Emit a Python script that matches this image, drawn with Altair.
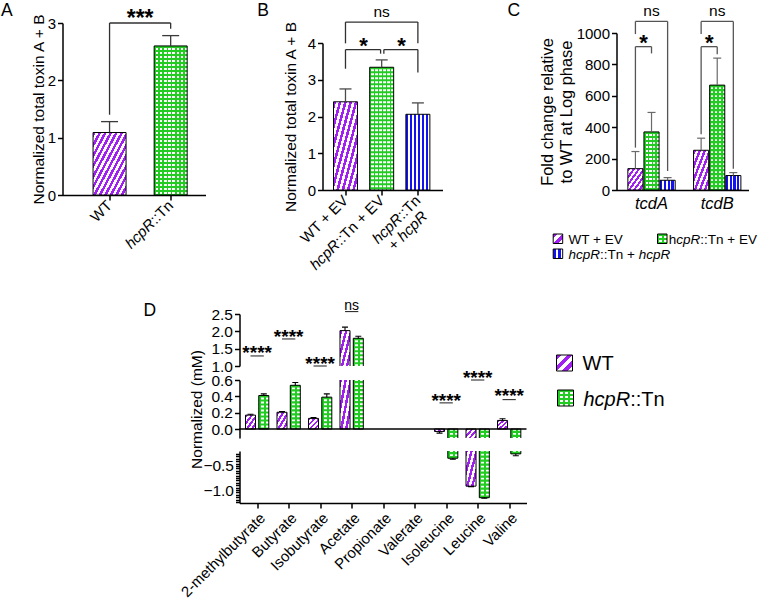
import json
import altair as alt
import pandas as pd

FONT = "Liberation Sans"
PURPLE = "#a11ff0"
GREEN = "#22cc22"
BLUE = "#1313f0"
LINE = "#303030"

# ---------------- values ----------------
A_groups = ["WT", "hcpR::Tn"]
A_mean = [1.09, 2.60]
A_err = [0.19, 0.18]

B_groups = ["WT + EV", "hcpR::Tn + EV", "hcpR::Tn + hcpR"]
B_mean = [2.40, 3.34, 2.06]
B_err = [0.35, 0.20, 0.31]

C_genes = ["tcdA", "tcdB"]
C_strains = ["WT + EV", "hcpR::Tn + EV", "hcpR::Tn + hcpR"]
C_mean_tcdA = [136, 370, 62]
C_err_tcdA = [109, 124, 17]
C_mean_tcdB = [253, 668, 92]
C_err_tcdB = [77, 172, 19]

D_metabolites = ["2-methylbutyrate", "Butyrate", "Isobutyrate", "Acetate", "Propionate",
                 "Valerate", "Isoleucine", "Leucine", "Valine"]
D_mean_WT = [0.17, 0.205, 0.13, 2.02, 0.0, 0.0, -0.03, -0.92, 0.105]
D_err_WT = [0.01, 0.01, 0.01, 0.10, 0.0, 0.0, 0.02, 0.01, 0.02]
D_mean_Tn = [0.41, 0.535, 0.39, 1.80, 0.0, 0.0, -0.34, -1.16, -0.25]
D_err_Tn = [0.02, 0.035, 0.04, 0.06, 0.0, 0.0, 0.02, 0.01, 0.04]
D_sig = ["****", "****", "****", "ns", "", "", "****", "****", "****"]
# annotation levels (layout)
D_sig_text_y = [1.51, 1.97, 1.19, 2.74, 0, 0, 0.40, 0.69, 0.46]
D_sig_line_y = [1.29, 1.78, 1.00, 2.57, 0, 0, 0.32, 0.60, 0.36]

DUMMY = pd.DataFrame({"z": [0]})

CW = {'a': .556, 'b': .556, 'c': .5, 'd': .556, 'e': .556, 'h': .556, 'n': .556, 'p': .556,
      'R': .722, 'T': .611, 'E': .667, 'V': .667, 'W': .944, ':': .278, ' ': .278, '+': .584}

GREEN_FRAC = 0.42
GREEN_DASH = [2.1, 1.9]


def tw(s, fs):
    return sum(CW.get(ch, .556) for ch in s) * fs


def stops(n, c1, c2, frac):
    out = []
    for i in range(n):
        a, b, c = i / n, (i + frac) / n, (i + 1) / n
        out += [alt.GradientStop(color=c1, offset=a), alt.GradientStop(color=c1, offset=b),
                alt.GradientStop(color=c2, offset=b), alt.GradientStop(color=c2, offset=c)]
    return out


def diag(n, frac=0.5):
    return alt.LinearGradient(gradient="linear", stops=stops(n, PURPLE, "#ffffff", frac),
                              x1=0, y1=0, x2=1, y2=1)


def vstripes(n, color, frac):
    return alt.LinearGradient(gradient="linear", stops=stops(n, color, "#ffffff", frac),
                              x1=0, y1=0, x2=1, y2=0)


def factory(xdom, xaxis, ydom, yaxis):
    xs = alt.Scale(domain=xdom, nice=False, zero=False)
    ys = alt.Scale(domain=ydom, nice=False, zero=False)

    def X(f):
        return alt.X(f, type="quantitative", scale=xs, axis=xaxis)

    def Y(f):
        return alt.Y(f, type="quantitative", scale=ys, axis=yaxis)
    return X, Y


def bar_layers(df, X, Y, kind, n, bar_px, clip=False, sw=1.0):
    base = alt.Chart(df)
    enc = dict(x=X("x1"), x2=alt.X2("x2"), y=Y("top"), y2=alt.Y2("base"))
    out = []
    if kind == "wt":
        out.append(base.mark_rect(fill=diag(n), stroke="black", strokeWidth=sw, clip=clip).encode(**enc))
    elif kind == "comp":
        out.append(base.mark_rect(fill=vstripes(n, BLUE, 0.6), stroke="black", strokeWidth=sw,
                                  clip=clip).encode(**enc))
    else:
        out.append(base.mark_rect(fill=vstripes(n, GREEN, GREEN_FRAC), clip=clip).encode(**enc))
        out.append(base.mark_rule(color=GREEN, strokeWidth=bar_px, strokeDash=GREEN_DASH,
                                  strokeCap="butt", clip=clip).encode(
            x=X("pos"), y=Y("top"), y2=alt.Y2("base")))
        out.append(base.mark_rect(fillOpacity=0, stroke="black", strokeWidth=sw, clip=clip).encode(**enc))
    return out


def err_layers(df, X, Y, color, sw=1.3, clip=False):
    base = alt.Chart(df)
    return [
        base.mark_rule(color=color, strokeWidth=sw, clip=clip).encode(x=X("pos"), y=Y("m"), y2=alt.Y2("et")),
        base.mark_rule(color=color, strokeWidth=sw, clip=clip).encode(x=X("cl"), x2=alt.X2("cr"), y=Y("et")),
    ]


def bracket_layer(segs, X, Y, sw=1.3, color=LINE):
    df = pd.DataFrame(segs, columns=["x", "xb", "y", "yb"])
    return alt.Chart(df).mark_rule(color=color, strokeWidth=sw).encode(
        x=X("x"), x2=alt.X2("xb"), y=Y("y"), y2=alt.Y2("yb"))


def star_layer(items, X, Y, fs, bold=True, dy=0):
    df = pd.DataFrame(items, columns=["pos", "y", "t"])
    return alt.Chart(df).mark_text(font=FONT, fontSize=fs, fontWeight="bold" if bold else "normal",
                                   baseline="middle", dy=dy, color="black").encode(
        x=X("pos"), y=Y("y"), text="t:N")


def rot_label(pos, pieces, X, y_px, fs=15, dy=0.0, shift=0.0):
    layers = []
    acc = 0.0
    for text, it, gap in reversed(pieces):
        acc += gap * fs
        layers.append(alt.Chart(pd.DataFrame({"pos": [pos]})).mark_text(
            text=text, angle=315, align="right", baseline="middle", font=FONT, fontSize=fs,
            fontStyle="italic" if it else "normal", dx=-acc + shift, dy=dy, color="black").encode(
            x=X("pos"), y=alt.value(y_px)))
        acc += tw(text, fs)
    return layers


def ptext(text, x, y, fs, italic=False, weight="normal"):
    return alt.Chart(DUMMY).mark_text(text=text, font=FONT, fontSize=fs, align="left",
                                      baseline="alphabetic", fontStyle="italic" if italic else "normal",
                                      fontWeight=weight, color="black").encode(
        x=alt.value(x), y=alt.value(y))


def swatch(kind, x1, x2, y1, y2, n):
    b = alt.Chart(DUMMY)
    enc = dict(x=alt.value(x1), x2=alt.value(x2), y=alt.value(y1), y2=alt.value(y2))
    if kind == "wt":
        return [b.mark_rect(fill=diag(n), stroke="black", strokeWidth=1).encode(**enc)]
    if kind == "comp":
        return [b.mark_rect(fill=vstripes(n, BLUE, 0.6), stroke="black", strokeWidth=1).encode(**enc)]
    return [b.mark_rect(fill=vstripes(n, GREEN, GREEN_FRAC)).encode(**enc),
            b.mark_rule(color=GREEN, strokeWidth=x2 - x1, strokeDash=GREEN_DASH, strokeCap="butt").encode(
                x=alt.value((x1 + x2) / 2), y=alt.value(y1), y2=alt.value(y2)),
            b.mark_rect(fillOpacity=0, stroke="black", strokeWidth=1).encode(**enc)]


def simple_df(means, errs, half, caph):
    df = pd.DataFrame({"m": means, "e": errs})
    df["pos"] = list(range(len(df)))
    df["x1"] = df.pos - half
    df["x2"] = df.pos + half
    df["top"] = df.m
    df["base"] = 0.0
    df["et"] = df.m + df.e
    df["cl"] = df.pos - caph
    df["cr"] = df.pos + caph
    return df


def spacer(w, h):
    return alt.Chart(DUMMY).mark_point(opacity=0).encode(
        x=alt.X("z:Q", axis=None), y=alt.Y("z:Q", axis=None)).properties(width=w, height=h)


# ---------------- Panel A ----------------
WA, HA = 143, 172
XA, YA = factory([-0.77, 1.57], alt.Axis(values=[0, 1], labels=False, title=None, grid=False),
                 [0, 3], alt.Axis(values=[0, 1, 2, 3], title="Normalized total toxin A + B",
                                  titlePadding=1, titleFontSize=15.5, grid=False))
dfA = simple_df(A_mean, A_err, 0.27, 0.139)
la = []
la += bar_layers(dfA.iloc[[0]], XA, YA, "wt", 12, 33)
la += bar_layers(dfA.iloc[[1]], XA, YA, "green", 8, 33)
la += err_layers(dfA, XA, YA, "#3a3a3a")
la.append(bracket_layer([(0, 1, 3.0, 3.0), (0, 0, 3.0, 1.40), (1, 1, 3.0, 2.90)], XA, YA))
la.append(star_layer([(0.5, 3.166, "***")], XA, YA, 23, dy=6))
la += rot_label(0, [(A_groups[0], False, 0)], XA, HA + 8)
la += rot_label(1, [("hcpR", True, 0), ("::Tn", False, 0)], XA, HA + 8)
la.append(ptext("A", -61.5, -6.8, 17.5))
panelA = alt.layer(*la).properties(width=WA, height=HA)

# ---------------- Panel B ----------------
WB, HB = 120, 147
XB, YB = factory([-0.635, 2.68], alt.Axis(values=[0, 1, 2], labels=False, title=None, grid=False),
                 [0, 4], alt.Axis(values=[0, 1, 2, 3, 4], title="Normalized total toxin A + B",
                                  titlePadding=9, titleFontSize=15.5, grid=False))
dfB = simple_df(B_mean, B_err, 0.331, 0.166)
lb = []
lb += bar_layers(dfB.iloc[[0]], XB, YB, "wt", 9, 24)
lb += bar_layers(dfB.iloc[[1]], XB, YB, "green", 6, 24)
lb += bar_layers(dfB.iloc[[2]], XB, YB, "comp", 6, 24)
lb += err_layers(dfB, XB, YB, "#4a4a4a")
lb.append(bracket_layer([(0, 2, 4.57, 4.57), (0, 0, 4.57, 3.99), (2, 2, 4.57, 3.99),
                         (0, 0.97, 3.82, 3.82), (0, 0, 3.82, 3.30), (0.97, 0.97, 3.82, 3.71),
                         (1.06, 2, 3.82, 3.82), (1.06, 1.06, 3.82, 3.71), (2, 2, 3.82, 3.20)], XB, YB))
lb.append(star_layer([(0.5, 4.09, "*"), (1.55, 4.09, "*")], XB, YB, 22, dy=6))
lb.append(star_layer([(1.0, 4.83, "ns")], XB, YB, 15.5, bold=False))
lb += rot_label(0, [("WT + EV", False, 0)], XB, HB + 8)
lb += rot_label(1, [("hcpR", True, 0), ("::Tn + EV", False, 0)], XB, HB + 8)
lb += rot_label(2, [("hcpR", True, 0), ("::Tn", False, 0)], XB, HB + 8)
lb += rot_label(2, [("+", False, 0.278), ("hcpR", True, 0)], XB, HB + 8, dy=16, shift=-6.5)
lb.append(ptext("B", -65.3, -27.2, 17.5))
panelB = alt.layer(*lb).properties(width=WB, height=HB)

# ---------------- Panel C ----------------
WC, HC = 132, 157
CSUB, CHALF, CCAP = 0.245, 0.115, 0.061
XC, YC = factory([-0.533, 1.476], alt.Axis(values=[0, 1], labels=False, ticks=False, title=None, grid=False),
                 [0, 1000], alt.Axis(values=[0, 200, 400, 600, 800, 1000], format="d",
                                     title=["Fold change relative", "to WT at  Log phase"],
                                     titleFontSize=16.4, titleLineHeight=19, titlePadding=2, grid=False))
rows = []
for gi, gene in enumerate(C_genes):
    means = C_mean_tcdA if gi == 0 else C_mean_tcdB
    errs = C_err_tcdA if gi == 0 else C_err_tcdB
    for k, strain in enumerate(C_strains):
        p = gi + (k - 1) * CSUB
        rows.append({"gene": gene, "k": k, "pos": p, "m": means[k], "e": errs[k],
                     "x1": p - CHALF, "x2": p + CHALF, "top": means[k], "base": 0.0,
                     "et": means[k] + errs[k], "cl": p - CCAP, "cr": p + CCAP})
dfC = pd.DataFrame(rows)
lc = []
lc += bar_layers(dfC[dfC.k == 0], XC, YC, "wt", 6, 15.2)
lc += bar_layers(dfC[dfC.k == 1], XC, YC, "green", 4, 15.2)
lc += bar_layers(dfC[dfC.k == 2], XC, YC, "comp", 4, 15.2)
lc += err_layers(dfC, XC, YC, "#6a6a6a", sw=1.2)
p0, p1, p2 = -CSUB, 0.0, CSUB
q0, q1, q2 = 1 - CSUB, 1.0, 1 + CSUB
lc.append(bracket_layer([(p0, p2, 1074, 1074), (p0, p0, 1074, 993), (p2, p2, 1074, 121),
                         (p0, p1, 913, 913), (p0, p0, 913, 270), (p1, p1, 913, 870),
                         (q0, q2, 1074, 1074), (q0, q0, 1074, 993), (q2, q2, 1074, 135),
                         (q0, q1, 913, 913), (q0, q0, 913, 355), (q1, q1, 913, 865)], XC, YC,
                        color="#555555"))
lc.append(star_layer([((p0 + p1) / 2, 972, "*"), ((q0 + q1) / 2, 972, "*")], XC, YC, 22, dy=6))
lc.append(star_layer([(0, 1142, "ns"), (1, 1142, "ns")], XC, YC, 15.5, bold=False))
lc.append(alt.Chart(pd.DataFrame({"pos": [0, 1], "t": C_genes})).mark_text(
    font=FONT, fontSize=16.5, fontStyle="italic", baseline="middle", color="black").encode(
    x=XC("pos"), y=alt.value(HC + 14), text="t:N"))
# legend
FSL = 13.5
R1S, R1B, R2S, R2B = 201, 210.6, 216, 225.6
lc += swatch("wt", -63.3, -53.8, R1S, R1S + 9.5, 2)
lc.append(ptext("WT + EV", -48, R1B, FSL))
lc += swatch("green", 41, 50.5, R1S, R1S + 9.5, 2)
lc.append(ptext("h", 52.3, R1B, FSL))
lc.append(ptext("cpR", 52.3 + tw("h", FSL), R1B, FSL, italic=True))
lc.append(ptext("::Tn + EV", 52.3 + tw("hcpR", FSL), R1B, FSL))
lc += swatch("comp", -63.3, -53.8, R2S, R2S + 9.5, 2)
lc.append(ptext("hcpR", -48, R2B, FSL, italic=True))
lc.append(ptext("::Tn +", -48 + tw("hcpR", FSL), R2B, FSL))
lc.append(ptext("hcpR", -48 + tw("hcpR::Tn + ", FSL), R2B, FSL, italic=True))
lc.append(ptext("C", -109, -16.8, 17.5))
panelC = alt.layer(*lc).properties(width=WC, height=HC)

# ---------------- Panel D (broken y axis) ----------------
WD = 287
DXDOM = [-0.56, 8.55]
DOFF, DHALF, DCAP = 0.211, 0.159, 0.095
drows = []
for i, met in enumerate(D_metabolites):
    for s, means, errs, sg in [("WT", D_mean_WT, D_err_WT, -1), ("Tn", D_mean_Tn, D_err_Tn, 1)]:
        v = means[i]
        if v == 0:
            continue
        p = i + sg * DOFF
        sign = 1 if v > 0 else -1
        drows.append({"met": met, "s": s, "pos": p, "m": v, "e": errs[i],
                      "x1": p - DHALF, "x2": p + DHALF, "et": v + sign * errs[i],
                      "cl": p - DCAP, "cr": p + DCAP})
dfD = pd.DataFrame(drows)

labexpr = json.dumps(D_metabolites) + "[datum.value]"
lower_vals = [round(-1.25 + 0.05 * i, 2) for i in range(21)]


def d_segment(lo, hi, height, yaxis, xaxis, extra):
    X, Y = factory(DXDOM, xaxis, [lo, hi], yaxis)
    pad = 0.05 * (hi - lo)

    def cl(v):
        return min(max(v, lo - pad), hi + pad)
    layers = []
    for s, kind, n in [("WT", "wt", 4), ("Tn", "green", 2)]:
        df = dfD[dfD.s == s].copy()
        df["top"] = df.m.map(cl)
        df["base"] = cl(0.0)
        layers += bar_layers(df, X, Y, kind, n, 10, clip=True, sw=1.0)
    layers += err_layers(dfD, X, Y, "black", sw=1.1, clip=True)
    layers += extra(X, Y)
    return alt.layer(*layers).properties(width=WD, height=height)


def top_extra(X, Y):
    out = []
    txt = [(i, D_sig_text_y[i], D_sig[i]) for i in range(9) if D_sig[i] and i <= 3]
    out.append(star_layer([t for t in txt if t[2] != "ns"], X, Y, 19, dy=5))
    out.append(star_layer([t for t in txt if t[2] == "ns"], X, Y, 14, bold=False))
    out.append(bracket_layer([(i - DOFF, i + DOFF, D_sig_line_y[i], D_sig_line_y[i])
                              for i in range(9) if D_sig[i] and i <= 3], X, Y, sw=1.1))
    out.append(ptext("D", -96, 2, 17.5))
    out += swatch("wt", 317, 333, 41, 57, 3)
    out.append(ptext("WT", 343, 56, 20))
    out += swatch("green", 318, 334, 76, 92, 3)
    out.append(ptext("hcpR", 344, 91.5, 20, italic=True))
    out.append(ptext("::Tn", 344 + tw("hcpR", 20), 91.5, 20))
    return out


def mid_extra(X, Y):
    out = []
    txt = [(i, D_sig_text_y[i], D_sig[i]) for i in range(9) if D_sig[i] and i >= 6]
    out.append(star_layer(txt, X, Y, 19, dy=5))
    out.append(bracket_layer([(i - DOFF, i + DOFF, D_sig_line_y[i], D_sig_line_y[i])
                              for i in range(9) if D_sig[i] and i >= 6], X, Y, sw=1.1))
    out.append(alt.Chart(pd.DataFrame({"a": [DXDOM[0]], "b": [DXDOM[1]], "y": [0.0]})).mark_rule(
        color="black", strokeWidth=1.5).encode(x=X("a"), x2=alt.X2("b"), y=Y("y")))
    return out


Dtop = d_segment(1.0, 2.5, 52,
                 alt.Axis(values=[1.0, 1.5, 2.0, 2.5], format=".1f", title=None, grid=False,
                          labelFontSize=15.5), None, top_extra)
Dmid = d_segment(-0.11, 0.6, 58,
                 alt.Axis(values=[0.0, 0.2, 0.4, 0.6], format=".1f", title="Normalized (mM)",
                          titleFontSize=15.5, titlePadding=6, grid=False, labelFontSize=15.5),
                 None, mid_extra)
Dbot = d_segment(-1.27, -0.19, 52,
                 alt.Axis(values=lower_vals, title=None, grid=False, labelFontSize=15.5, tickSize=4,
                          labelOverlap=False,
                          labelExpr="abs(datum.value + 0.5) < 0.001 || abs(datum.value + 1) < 0.001 ? format(datum.value, '.1f') : ''"),
                 alt.Axis(values=list(range(9)), labelExpr=labexpr, labelAngle=315, title=None,
                          grid=False, labelFontSize=15, labelFlush=False, labelOverlap=False),
                 lambda X, Y: [])

# ---------------- layout ----------------
# (nested compositions take no room in a flush layout, so spacers carry the sizes)
FL = dict(spacing=0, bounds="flush")
colB = alt.vconcat(spacer(1, 20), panelB, **FL)
colC = alt.vconcat(spacer(1, 10), panelC, **FL)
toprow = alt.hconcat(panelA, spacer(117, 1), colB, spacer(294, 1), colC, **FL)
Dcol = alt.vconcat(Dtop, spacer(1, 14), Dmid, spacer(1, 13), Dbot, **FL)
rowD = alt.hconcat(spacer(177, 1), Dcol, **FL)

chart = alt.vconcat(toprow, spacer(1, 291), rowD, **FL).properties(
    padding={"left": 0.5, "top": 1, "right": 0, "bottom": 0}, background="white"
).configure_view(stroke=None).configure_axis(
    domainColor="black", domainWidth=1.5, tickColor="black", tickWidth=1.5, tickSize=5,
    labelFont=FONT, labelFontSize=15, labelColor="black", labelPadding=2,
    titleFont=FONT, titleFontSize=15, titleFontWeight="normal", titleColor="black", grid=False
)

chart.save("out.html", embed_options={"renderer": "svg", "actions": False})
